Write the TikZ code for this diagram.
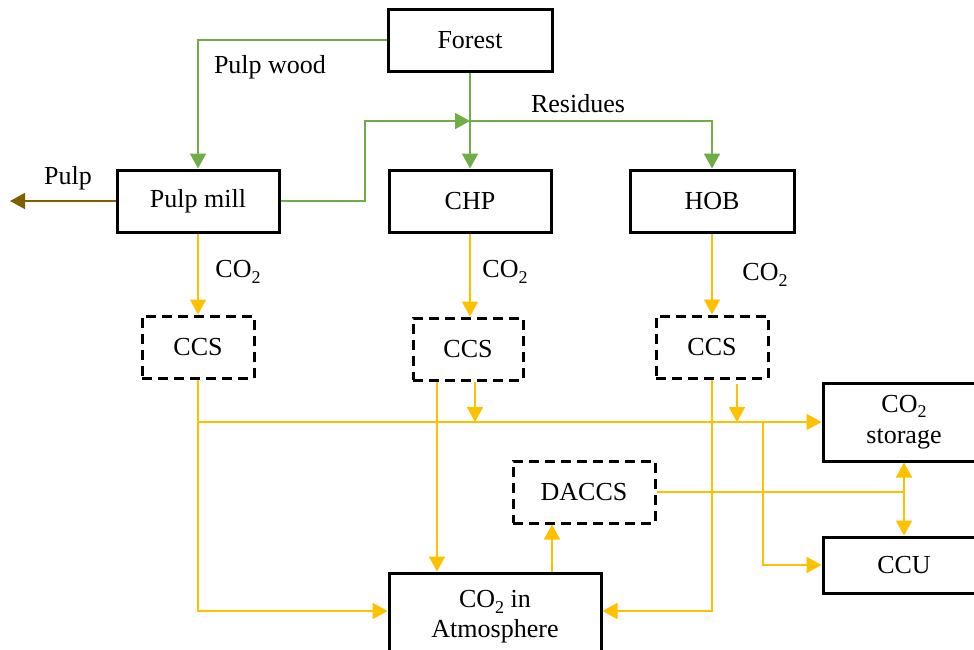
\documentclass[tikz,border=0pt]{standalone}
\usepackage{fontspec}
\setmainfont{Liberation Serif}
\usetikzlibrary{arrows.meta,calc}
\definecolor{cgreen}{HTML}{70AD47}
\definecolor{corange}{HTML}{FFC000}
\definecolor{cbrown}{HTML}{7F6000}
\newcommand{\cotwo}{CO\raisebox{-0.45ex}{\fontsize{18}{18}\selectfont 2}}
\begin{document}
\begin{tikzpicture}[x=1pt,y=-1pt,
  every node/.style={font=\fontsize{26}{30}\selectfont, inner sep=0pt, align=center},
  solidbox/.style={draw=black, line width=3pt, fill=white},
  dashbox/.style={draw=black, line width=3pt, dash pattern=on 10pt off 6pt, fill=white},
  flow/.style={line width=1.8pt, -{Triangle[length=15pt,width=16pt]}},
  gflow/.style={flow, draw=cgreen, color=cgreen},
  oflow/.style={flow, draw=corange, color=corange},
  bflow/.style={flow, draw=cbrown, color=cbrown},
  oline/.style={line width=1.8pt, draw=corange},
  lbl/.style={font=\fontsize{26}{30}\selectfont}]
\useasboundingbox (0,0) rectangle (974,649);
\clip (0,0) rectangle (974,649);
\fill[white] (0,0) rectangle (974,649);

\coordinate (res) at (470,121);
\coordinate (pk) at (365,121);
\coordinate (pulpout) at (10,201);
\coordinate (br) at (763,422);

% nodes
\node[solidbox, minimum width=164pt, minimum height=62pt] (forest) at (470,40) {Forest};
\node[solidbox, minimum width=162pt, minimum height=62pt] (pulp) at (198,201) {Pulp mill};
\node[solidbox, minimum width=162pt, minimum height=62pt] (chp) at (470,201) {CHP};
\node[solidbox, minimum width=164pt, minimum height=62pt] (hob) at (712,201) {HOB};
\node[dashbox, minimum width=112pt, minimum height=62pt] (ccs1) at (198,347) {CCS};
\node[dashbox, minimum width=110pt, minimum height=62pt] (ccs2) at (468,349) {CCS};
\node[dashbox, minimum width=112pt, minimum height=62pt] (ccs3) at (712,347) {CCS};
\node[solidbox, minimum width=162pt, minimum height=78pt] (storage) at (904,422) {\cotwo\\[1pt]storage};
\node[solidbox, minimum width=162pt, minimum height=56pt] (ccu) at (904,565) {CCU};
\node[dashbox, minimum width=142pt, minimum height=62pt] (daccs) at (584,492) {DACCS};
\node[solidbox, minimum width=212pt, minimum height=88pt] (atm) at (495,617) {\cotwo{} in\\[0pt]Atmosphere};

% green flows
\draw[gflow] (forest.west) -| (pulp.north);
\draw[gflow] (forest.south) -- (forest.south |- chp.north);
\draw[gflow] (res) -| (hob.north);
\draw[gflow] (pulp.east) -| (pk) -- (res);
% pulp out
\draw[bflow] (pulp.west) -- (pulpout);

% CO2 to CCS
\draw[oflow] (pulp.south) -- (pulp.south |- ccs1.north);
\draw[oflow] (chp.south) -- (chp.south |- ccs2.north);
\draw[oflow] (hob.south) -- (hob.south |- ccs3.north);

% CCS outputs
\draw[oflow] (ccs1.south) |- ([yshift=6pt]atm.west);
\draw[oflow] (ccs1.south |- storage.west) -- (storage.west);
\draw[oflow] ([xshift=-31pt]ccs2.south) -- ([xshift=-31pt]ccs2.south |- atm.north);
\draw[oflow] ([xshift=7pt]ccs2.south) -- ([xshift=7pt]ccs2.south |- storage.west);
\draw[oflow] (ccs3.south) |- ([yshift=6pt]atm.east);
\draw[oflow] ([xshift=25pt,yshift=-4pt]ccs3.south) -- ([xshift=25pt]ccs3.south |- storage.west);
\draw[oflow] (br) |- (ccu.west);

% DACCS
\coordinate (dj) at (storage.south |- daccs.east);
\draw[oline] (daccs.east) -- (dj);
\draw[oflow] (dj) -- (storage.south);
\draw[oflow] (dj) -- (ccu.north);
\draw[oflow] ([xshift=57pt]atm.north) -- ([xshift=57pt]atm.north |- daccs.south);

% labels
\node[lbl] (lpw) at (270,67) {Pulp wood};
\node[lbl] (lres) at (578,104) {Residues};
\node[lbl] (lpulp) at (68,178) {Pulp};
\node[lbl] (lc1) at (238,272) {\cotwo};
\node[lbl] (lc2) at (505,272) {\cotwo};
\node[lbl] (lc3) at (765,275) {\cotwo};
\end{tikzpicture}
\end{document}
